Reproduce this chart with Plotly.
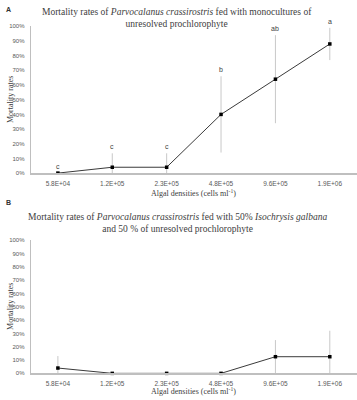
import plotly.graph_objects as go

categories = ["5.8E+04", "1.2E+05", "2.3E+05", "4.8E+05", "9.6E+05", "1.9E+06"]
a_mean = [0, 4, 4, 40, 64, 88]
a_err = [0, 9.5, 9.5, 26, 30, 11]
a_letters = ["c", "c", "c", "b", "ab", "a"]
b_mean = [4, 0, 0, 0, 12.5, 12.5]
b_err = [9, 0, 0, 0, 12.5, 19.5]
y_ticks = [0, 10, 20, 30, 40, 50, 60, 70, 80, 90, 100]
y_ticktext = [f"{v}%" for v in y_ticks]

W, H = 357, 400
def py(p):
    return 1 - p / H

xpos = list(range(len(categories)))

fig = go.Figure()
for mean, err, xa, ya in [(a_mean, a_err, "x", "y"), (b_mean, b_err, "x2", "y2")]:
    fig.add_trace(go.Scatter(
        x=xpos, y=mean, xaxis=xa, yaxis=ya, mode="lines+markers",
        line=dict(color="#3a3a3a", width=1),
        marker=dict(symbol="square", size=3.5, color="#000000"),
        error_y=dict(type="data", array=err, visible=True, color="#c8c8c8",
                     thickness=1, width=0),
        cliponaxis=False, showlegend=False))

x_dom = [30.7 / W, 1.0]
axis_common = dict(showgrid=False, zeroline=False, showline=True,
                   linecolor="#bfbfbf", fixedrange=True)
xtickfont = dict(family="Liberation Sans, Arial", size=6.5, color="#595959")
ytickfont = dict(family="Liberation Sans Narrow, Liberation Sans", size=6, color="#595959")
xaxis_common = dict(type="linear", range=[-0.5, 5.5], tickmode="array",
                    tickvals=xpos, ticktext=categories, linewidth=1.5,
                    ticks="outside", ticklen=3, tickcolor="rgba(0,0,0,0)",
                    tickfont=xtickfont, **axis_common)
yaxis_common = dict(type="linear", range=[0, 100], tickmode="array",
                    tickvals=y_ticks, ticktext=y_ticktext, linewidth=1,
                    ticks="outside", ticklen=4, tickcolor="rgba(0,0,0,0)",
                    tickfont=ytickfont, **axis_common)
fig.update_layout(
    width=W, height=H, margin=dict(l=0, r=0, t=0, b=0),
    paper_bgcolor="white", plot_bgcolor="white",
    xaxis=dict(domain=x_dom, anchor="y", **xaxis_common),
    yaxis=dict(domain=[py(172.7), py(23.7)], anchor="x", **yaxis_common),
    xaxis2=dict(domain=x_dom, anchor="y2", **xaxis_common),
    yaxis2=dict(domain=[py(376), py(240.8)], anchor="x2", **yaxis_common),
)

serif = "Liberation Serif, Times New Roman"
ann = []
# letters above error bars
for i, (m, e, l) in enumerate(zip(a_mean, a_err, a_letters)):
    ann.append(dict(x=i, y=m + e, xref="x", yref="y", text=l, showarrow=False,
                    yanchor="bottom", yshift=1,
                    font=dict(family="Liberation Sans", size=7, color="#404040")))
# titles
tx = 177 / W
ann.append(dict(x=tx, y=py(2), xref="paper", yref="paper",
                text="Mortality rates of <i>Parvocalanus crassirostris</i> fed with monocultures of<br>unresolved prochlorophyte",
                showarrow=False, yanchor="top", xanchor="center",
                font=dict(family=serif, size=9.5, color="#404040")))
ann.append(dict(x=tx, y=py(210.5), xref="paper", yref="paper",
                text="Mortality rates of <i>Parvocalanus crassirostris</i> fed with 50% <i>Isochrysis galbana</i><br>and 50 % of unresolved prochlorophyte",
                showarrow=False, yanchor="top", xanchor="center",
                font=dict(family=serif, size=9.5, color="#404040")))
# panel letters
ann.append(dict(x=4 / W, y=py(7), xref="paper", yref="paper", text="<b>A</b>",
                showarrow=False, xanchor="left", yanchor="middle",
                font=dict(family="Liberation Sans", size=7, color="#333333")))
ann.append(dict(x=4 / W, y=py(203), xref="paper", yref="paper", text="<b>B</b>",
                showarrow=False, xanchor="left", yanchor="middle",
                font=dict(family="Liberation Sans", size=7, color="#333333")))
# axis titles
for yc in [192.5, 394]:
    ann.append(dict(x=(30.7 + 357) / 2 / W, y=py(yc), xref="paper", yref="paper",
                    text="Algal densities (cells ml<sup>-1</sup>)", showarrow=False,
                    xanchor="center", yanchor="middle",
                    font=dict(family=serif, size=8, color="#404040")))
for yc in [98, 308]:
    ann.append(dict(x=10.5 / W, y=py(yc), xref="paper", yref="paper",
                    text="Mortality rates", showarrow=False, textangle=-90,
                    xanchor="center", yanchor="middle",
                    font=dict(family=serif, size=8, color="#404040")))
fig.update_layout(annotations=ann)

fig.write_html("out.html", config={"displayModeBar": False},
               post_script="document.body.style.margin='0';")
